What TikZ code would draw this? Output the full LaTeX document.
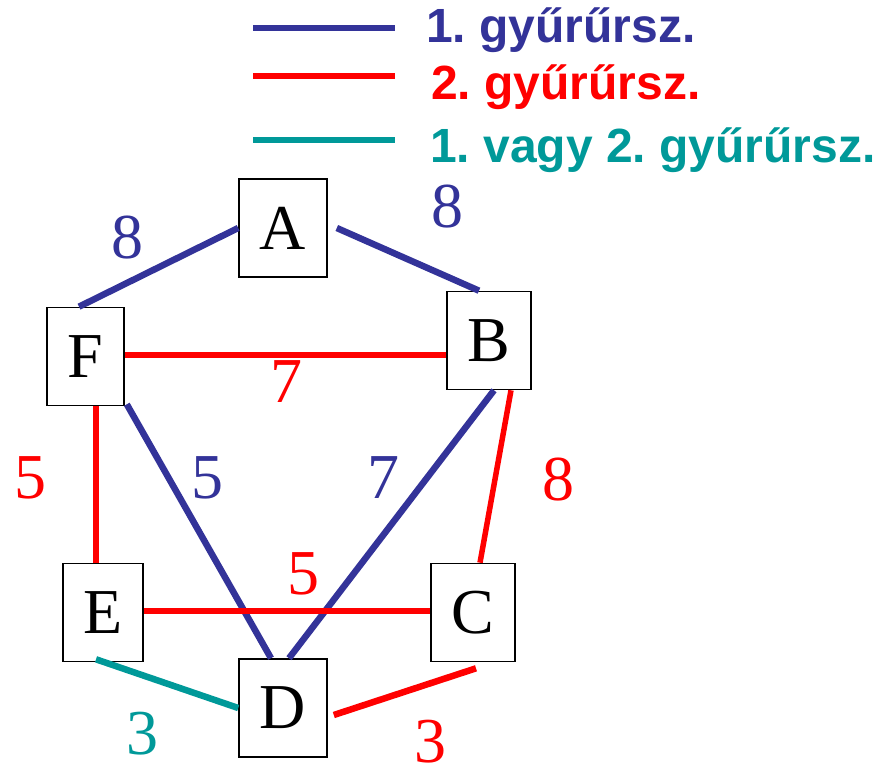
\documentclass[tikz,border=0pt]{standalone}
\usepackage{fontspec}
\setmainfont{Liberation Serif}
\newfontfamily\legendfont{Liberation Sans}
\definecolor{ringone}{HTML}{333399}
\definecolor{ringtwo}{HTML}{FF0000}
\definecolor{ringeither}{HTML}{009999}
\frenchspacing
\begin{document}
\begin{tikzpicture}[x=1pt,y=-1pt,
  vbox/.style={draw=black,line width=1.6pt,fill=white,inner sep=0pt,minimum height=98pt,
    font=\fontsize{64}{70}\selectfont},
  elabel/.style={inner sep=0pt,font=\fontsize{64}{70}\selectfont},
  edgeline/.style={line width=6.5pt},
  legline/.style={line width=6pt},
  legtext/.style={inner sep=0pt,anchor=base west,font=\legendfont\bfseries\fontsize{48}{50}\selectfont}
]
\useasboundingbox (0,0) rectangle (893,775);
\node[vbox,minimum width=88pt] (A) at (283,228) {A};
\node[vbox,minimum width=77pt] (F) at (85.5,356.5) {F};
\node[vbox,minimum width=84pt] (B) at (489,340.5) {B};
\node[vbox,minimum width=80pt] (E) at (103,612.5) {E};
\node[vbox,minimum width=84pt] (C) at (473,612.5) {C};
\node[vbox,minimum width=88pt] (D) at (283,708) {D};

\draw[edgeline,ringone] (A.west) -- ([xshift=-6.5pt]F.north);
\draw[edgeline,ringone] ([xshift=9pt]A.east) -- ([xshift=-10pt]B.north);
\draw[edgeline,ringtwo] ([yshift=1.5pt]F.east) -- ([yshift=1.5pt]F.east -| B.west);
\draw[edgeline,ringtwo,line width=5.5pt] ([xshift=10.5pt]F.south) -- ([xshift=10.5pt]F.south |- E.north);
\draw[edgeline,ringone] ([xshift=2pt,yshift=2pt]F.south east) -- ([xshift=-12pt]D.north);
\draw[edgeline,ringone] ([xshift=5pt]B.south) -- ([xshift=6pt]D.north);
\draw[edgeline,ringtwo,line width=5.5pt] ([xshift=22pt]B.south) -- ([xshift=7pt]C.north);
\draw[edgeline,ringtwo] ([yshift=1.5pt]E.east) -- ([yshift=1.5pt]C.west);
\draw[edgeline,ringeither] ([xshift=-7pt,yshift=3pt]E.south) -- (D.west);
\draw[edgeline,ringtwo] ([shift={(6pt,-7pt)}]D.east) -- ([shift={(3pt,-6pt)}]C.south);

% edge labels
\node[elabel,ringone] (lAF) at (127,238) {8};
\node[elabel,ringone] (lAB) at (447,207) {8};
\node[elabel,ringtwo] (lFB) at (286,382) {7};
\node[elabel,ringtwo] (lFE) at (30.5,478) {5};
\node[elabel,ringone] (lFD) at (207,478) {5};
\node[elabel,ringone] (lBD) at (383,478) {7};
\node[elabel,ringtwo] (lBC) at (558,480) {8};
\node[elabel,ringtwo] (lEC) at (303,574) {5};
\node[elabel,ringeither] (lED) at (142,734) {3};
\node[elabel,ringtwo] (lDC) at (430,742) {3};

% legend
\coordinate (k1a) at (253,28); \coordinate (k1b) at (395,28);
\coordinate (k2a) at (253,76); \coordinate (k2b) at (395,76);
\coordinate (k3a) at (253,140); \coordinate (k3b) at (395,140);
\draw[legline,ringone] (k1a) -- (k1b);
\draw[legline,ringtwo] (k2a) -- (k2b);
\draw[legline,ringeither] (k3a) -- (k3b);
\node[legtext,ringone] (t1) at (426,43) {1. gyűrűrsz.};
\node[legtext,ringtwo] (t2) at (431,100) {2. gyűrűrsz.};
\node[legtext,ringeither] (t3) at (430,163) {1. vagy 2. gyűrűrsz.};
\end{tikzpicture}
\end{document}
